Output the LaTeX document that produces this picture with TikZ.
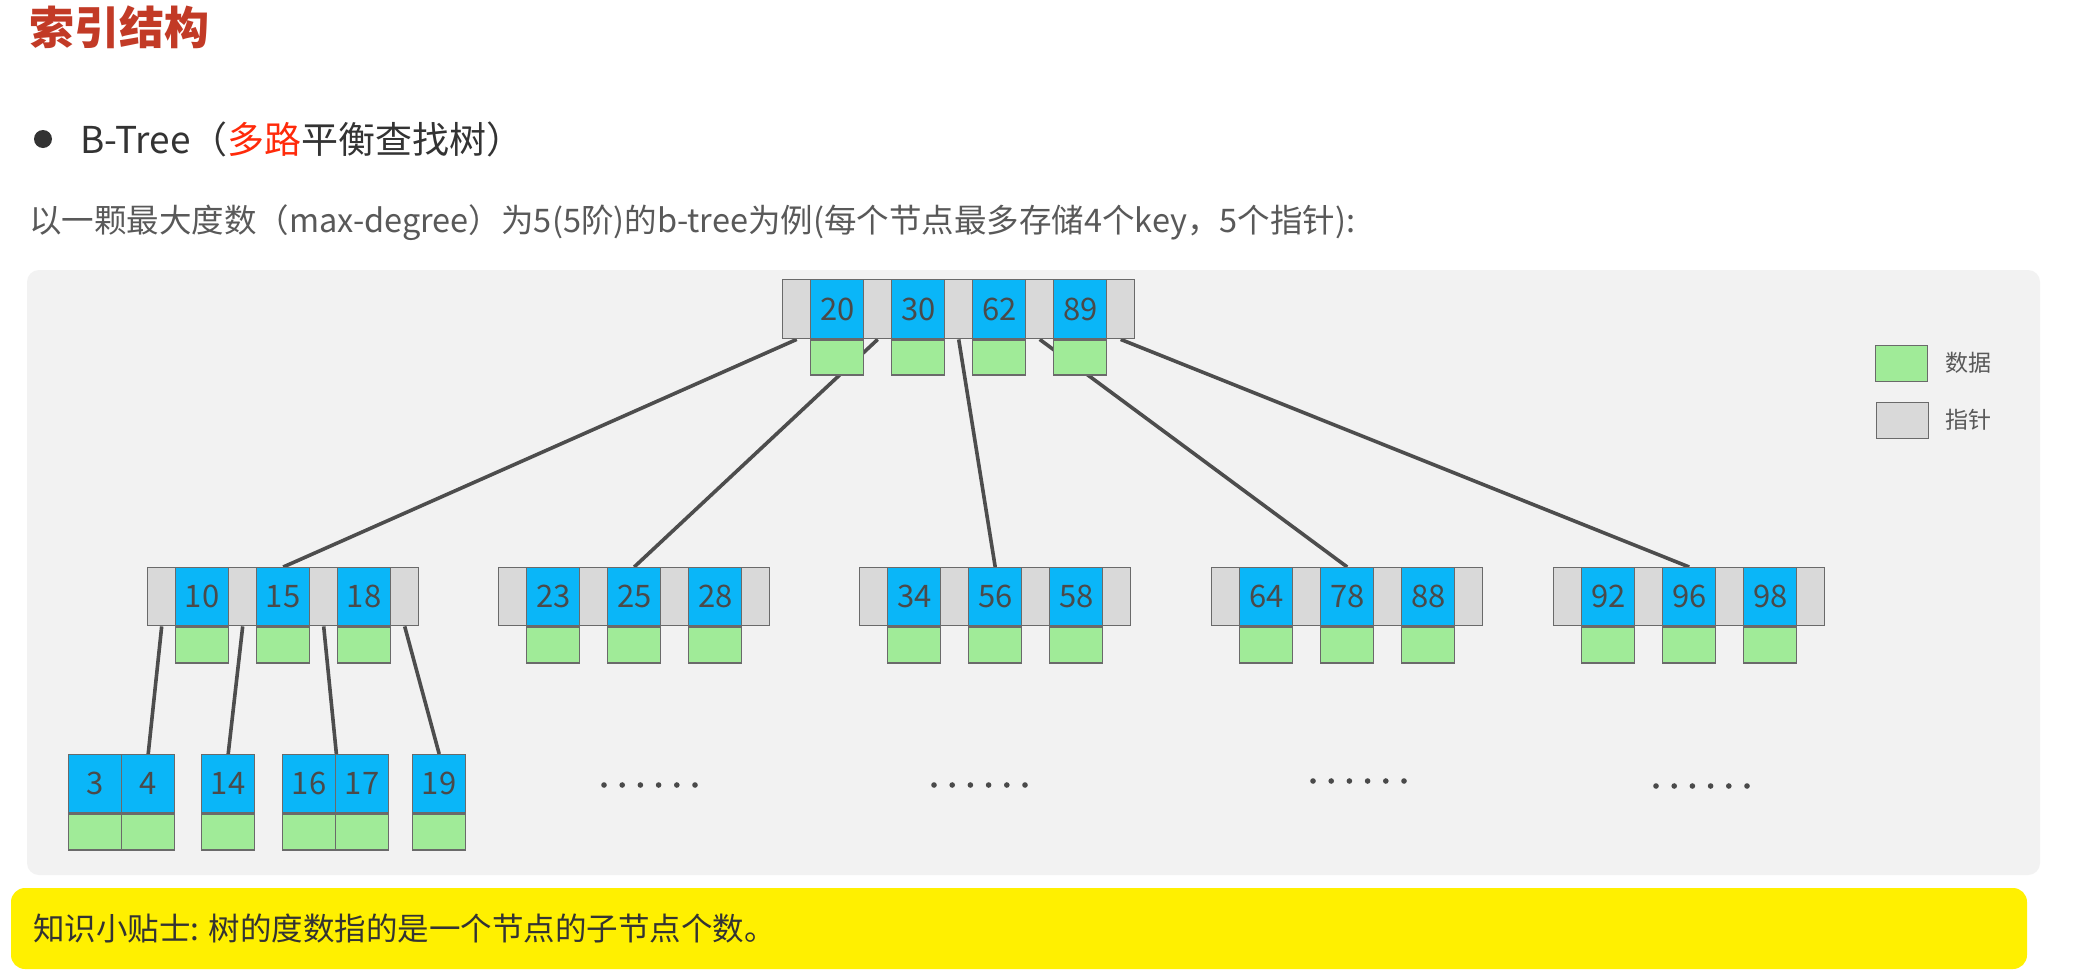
\documentclass[tikz,border=0pt]{standalone}
\usepackage{fontspec}
\setmainfont{Noto Sans CJK SC}
\usetikzlibrary{backgrounds}
\definecolor{keyblue}{HTML}{0AB6F8}
\definecolor{datagreen}{HTML}{A0EB98}
\definecolor{ptrgray}{HTML}{D9D9D9}
\definecolor{bord}{HTML}{6A6A6A}
\definecolor{numtxt}{HTML}{4A4A4A}
\definecolor{panelgray}{HTML}{F2F2F2}
\definecolor{linegray}{HTML}{4D4D4D}
\definecolor{titlered}{HTML}{C23A26}
\definecolor{hired}{HTML}{FF2A0A}
\definecolor{bodytxt}{HTML}{333333}
\definecolor{desctxt}{HTML}{595959}
\definecolor{tipyellow}{HTML}{FFF000}
\tikzset{
  cellbase/.style={draw=bord, line width=1.4pt, inner sep=0pt, anchor=north west, text=numtxt, font=\fontsize{31}{36}\selectfont},
  ptrcell/.style={cellbase, fill=ptrgray, minimum width=28pt},
  keycell/.style={cellbase, fill=keyblue, minimum width=53pt},
  datacell/.style={cellbase, fill=datagreen, minimum width=53pt},
  conn/.style={draw=linegray, line width=3.6pt},
  dotmark/.style={fill=numtxt},
  legendbox/.style={draw=bord, line width=1.4pt, inner sep=0pt, anchor=north west, minimum width=52pt, minimum height=36pt},
  legendtxt/.style={anchor=west, text=desctxt, font=\fontsize{23}{28}\selectfont, inner sep=0pt}
}
\newcommand{\innernode}[7]{%
  \foreach \k [count=\i from 0] in {#6} {
    \node[ptrcell, minimum height=#4pt] (#1-g\i) at ({#2+81*\i},{#3}) {};
    \node[keycell, minimum height=#4pt] (#1-k\i) at ({#2+81*\i+28},{#3}) {\k};
    \node[datacell, minimum height=#5pt] (#1-d\i) at (#1-k\i.south west) {};
  }
  \node[ptrcell, minimum height=#4pt] (#1-g#7) at ({#2+81*#7},{#3}) {};
}
\newcommand{\leafnode}[3]{%
  \foreach \k [count=\i from 0] in {#3} {
    \node[keycell, minimum height=58pt] (#1-k\i) at ({#2+53*\i},754) {\k};
    \node[datacell, minimum height=36pt] (#1-d\i) at (#1-k\i.south west) {};
  }
}
\begin{document}
\begin{tikzpicture}[x=1pt,y=-1pt]
\useasboundingbox (0,0) rectangle (2078,980);

% headings
\node[anchor=west, inner sep=0pt, text=titlered, font=\fontsize{45}{54}\selectfont\bfseries] (title) at (29,27) {索引结构};
\fill[bodytxt] (43,139) circle (9);
\node[anchor=west, inner sep=0pt, text=bodytxt, font=\fontsize{37}{44}\selectfont] (btree) at (80,139) {B-Tree（\textcolor{hired}{多路}平衡查找树）};
\node[anchor=west, inner sep=0pt, text=desctxt, font=\fontsize{32.5}{40}\selectfont] (desc) at (29,223) {以一颗最大度数（max-degree）为5(5阶)的b-tree为例(每个节点最多存储4个key，5个指针):};

% tree nodes
\innernode{r}{782}{279}{59}{35}{20,30,62,89}{4}
\innernode{na}{147}{567}{58}{36}{10,15,18}{3}
\innernode{nb}{498}{567}{58}{36}{23,25,28}{3}
\innernode{nc}{859}{567}{58}{36}{34,56,58}{3}
\innernode{nd}{1211}{567}{58}{36}{64,78,88}{3}
\innernode{ne}{1553}{567}{58}{36}{92,96,98}{3}
\leafnode{la}{68}{3,4}
\leafnode{lb}{201}{14}
\leafnode{lc}{282}{16,17}
\leafnode{ld}{412}{19}

% ellipses
\foreach \sx/\sy in {604/785, 934/785, 1313/781, 1656/786} {
  \foreach \j in {0,...,5} \fill[dotmark] ({\sx+18.2*\j},\sy) circle (2.8);
}

% legend
\node[legendbox, fill=datagreen] (legdata) at (1875,345) {};
\node[legendbox, fill=ptrgray] (legptr) at (1876,402) {};
\node[legendtxt] (legdatatxt) at (1945,363) {数据};
\node[legendtxt] (legptrtxt) at (1945,420) {指针};

% tip box
\fill[tipyellow, rounded corners=14pt] (11,888) rectangle (2027,969);
\node[anchor=west, inner sep=0pt, text=bodytxt, font=\fontsize{31.5}{38}\selectfont] (tip) at (33,928) {知识小贴士: 树的度数指的是一个节点的子节点个数。};

\begin{pgfonlayer}{background}
  \fill[white] (0,0) rectangle (2078,980);
  \fill[panelgray, rounded corners=12pt] (27,270) rectangle (2040,875);
  \draw[conn] (r-g0.south) -- (na-k1.north);
  \draw[conn] (r-g1.south) -- (nb-k1.north);
  \draw[conn] (r-g2.south) -- (nc-k1.north);
  \draw[conn] (r-g3.south) -- (nd-k1.north);
  \draw[conn] (r-g4.south) -- (ne-k1.north);
  \draw[conn] (na-g0.south) -- (la-k1.north);
  \draw[conn] (na-g1.south) -- (lb-k0.north);
  \draw[conn] (na-g2.south) -- (lc-k0.north east);
  \draw[conn] (na-g3.south) -- (ld-k0.north);
\end{pgfonlayer}
\end{tikzpicture}
\end{document}
